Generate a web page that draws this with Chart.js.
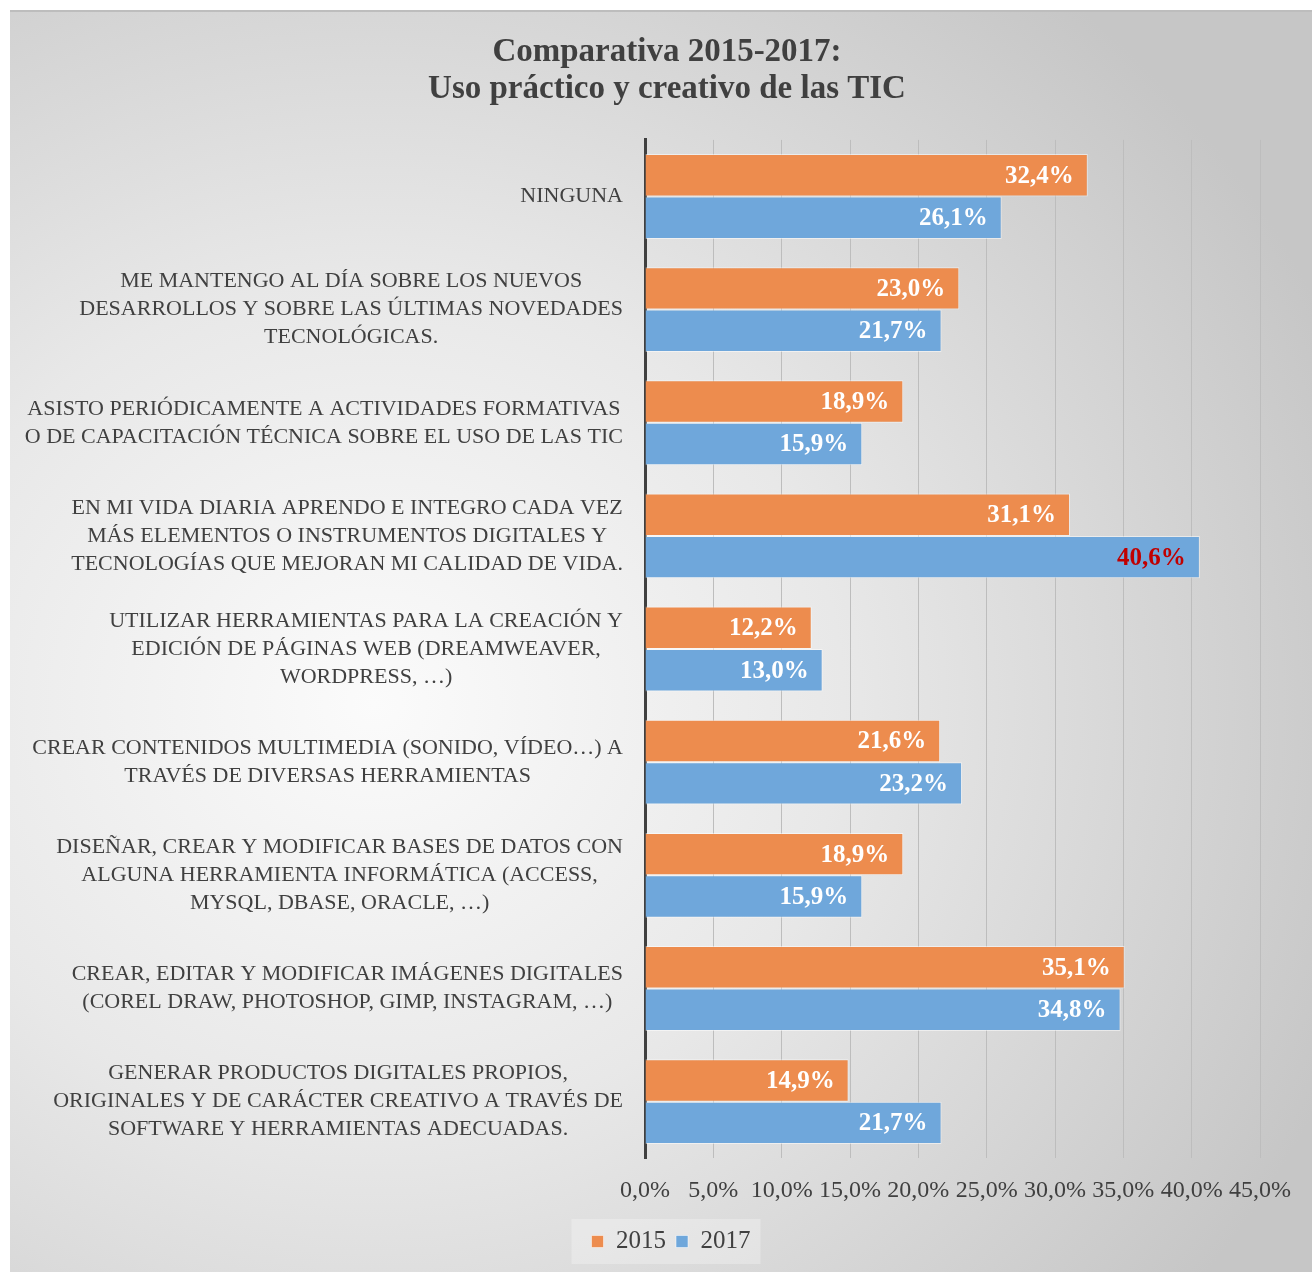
<!DOCTYPE html>
<html>
<head>
<meta charset="utf-8">
<script src="https://cdn.jsdelivr.net/npm/chart.js@4.4.0/dist/chart.umd.min.js"></script>
<style>
html, body { margin: 0; padding: 0; background: #fff; }
#wrap {
    position: absolute; left: 10px; top: 10px; width: 1302px; height: 1262px;
    background: radial-gradient(ellipse 80% 75% at 28% 55%, #fbfbfb 0%, #e8e8e8 45%, #c6c6c6 100%);
}
#wrap::before {
    content: ''; position: absolute; left: 0; top: 0; right: 0; height: 2px; background: #bdbdbd;
}
#c { position: absolute; left: 0; top: 0; }
</style>
</head>
<body>
<div id="wrap"><canvas id="c" width="1302" height="1262"></canvas></div>
<script>
// datos del gráfico
const categories = [
    ['NINGUNA'],
    ['ME MANTENGO AL DÍA SOBRE LOS NUEVOS', 'DESARROLLOS Y SOBRE LAS ÚLTIMAS NOVEDADES', 'TECNOLÓGICAS.'],
    ['ASISTO PERIÓDICAMENTE A ACTIVIDADES FORMATIVAS', 'O DE CAPACITACIÓN TÉCNICA SOBRE EL USO DE LAS TIC'],
    ['EN MI VIDA DIARIA APRENDO E INTEGRO CADA VEZ', 'MÁS ELEMENTOS O INSTRUMENTOS DIGITALES Y', 'TECNOLOGÍAS QUE MEJORAN MI CALIDAD DE VIDA.'],
    ['UTILIZAR HERRAMIENTAS PARA LA CREACIÓN Y', 'EDICIÓN DE PÁGINAS WEB (DREAMWEAVER,', 'WORDPRESS, …)'],
    ['CREAR CONTENIDOS MULTIMEDIA (SONIDO, VÍDEO…) A', 'TRAVÉS DE DIVERSAS HERRAMIENTAS'],
    ['DISEÑAR, CREAR Y MODIFICAR BASES DE DATOS CON', 'ALGUNA HERRAMIENTA INFORMÁTICA (ACCESS,', 'MYSQL, DBASE, ORACLE, …)'],
    ['CREAR, EDITAR Y MODIFICAR IMÁGENES DIGITALES', '(COREL DRAW, PHOTOSHOP, GIMP, INSTAGRAM, …)'],
    ['GENERAR PRODUCTOS DIGITALES PROPIOS,', 'ORIGINALES Y DE CARÁCTER CREATIVO A TRAVÉS DE', 'SOFTWARE Y HERRAMIENTAS ADECUADAS.']
];
const seriesNames = ['2015', '2017'];
const values2015 = [32.4, 23.0, 18.9, 31.1, 12.2, 21.6, 18.9, 35.1, 14.9];
const values2017 = [26.1, 21.7, 15.9, 40.6, 13.0, 23.2, 15.9, 34.8, 21.7];
const xTicks = [0, 5, 10, 15, 20, 25, 30, 35, 40, 45];
const titleLines = ['Comparativa 2015-2017:', 'Uso práctico y creativo de las TIC'];

const FONT = '"Liberation Serif", "DejaVu Serif", serif';
const TEXT = '#404040';
// etiqueta resaltada en rojo (2017, fila 4)
const highlighted = { dataset: 1, index: 3 };

const fmt = v => v.toFixed(1).replace('.', ',') + '%';

// título y leyenda van algo desplazados a la derecha, como en el original
const boxShift = {
    id: 'boxShift',
    afterLayout(chart) {
        const lg = chart.legend;
        if (lg) {
            lg.left += 36;
            lg.right += 36;
            lg.top -= 4;
            lg.bottom -= 4;
        }
        const tt = chart.titleBlock;
        if (tt) {
            tt.left += 32;
            tt.right += 32;
            tt.top += 3;
            tt.bottom += 3;
        }
    }
};

// fondo claro detrás de la leyenda
const legendBox = {
    id: 'legendBox',
    beforeDraw(chart) {
        const boxes = chart.legend && chart.legend.legendHitBoxes;
        if (!boxes || !boxes.length) return;
        const left = Math.min(...boxes.map(b => b.left)) - 20;
        const right = Math.max(...boxes.map(b => b.left + b.width)) + 10;
        const top = chart.legend.top;
        const ctx = chart.ctx;
        ctx.save();
        ctx.fillStyle = 'rgba(255,255,255,0.28)';
        ctx.fillRect(left, top, right - left, chart.legend.height);
        ctx.restore();
    }
};

// etiquetas de categoría: bloque alineado a la derecha, líneas centradas
const categoryLabels = {
    id: 'categoryLabels',
    afterDraw(chart) {
        const y = chart.scales.y;
        const ctx = chart.ctx;
        ctx.save();
        ctx.font = '22px ' + FONT;
        ctx.fillStyle = TEXT;
        ctx.textAlign = 'center';
        ctx.textBaseline = 'middle';
        const lh = 28;
        categories.forEach((lines, i) => {
            const cy = y.getPixelForValue(i);
            const widest = Math.max(...lines.map(l => ctx.measureText(l).width));
            const cx = y.right - 22 - widest / 2;
            lines.forEach((l, k) => {
                ctx.fillText(l, cx, cy + (k - (lines.length - 1) / 2) * lh);
            });
        });
        ctx.restore();
    }
};

// valores dentro del extremo de cada barra
const valueLabels = {
    id: 'valueLabels',
    afterDatasetsDraw(chart) {
        const ctx = chart.ctx;
        ctx.save();
        ctx.font = 'bold 25px ' + FONT;
        ctx.textAlign = 'right';
        ctx.textBaseline = 'middle';
        chart.data.datasets.forEach((ds, d) => {
            chart.getDatasetMeta(d).data.forEach((bar, i) => {
                const hl = d === highlighted.dataset && i === highlighted.index;
                ctx.fillStyle = hl ? '#C00000' : '#ffffff';
                ctx.fillText(fmt(ds.data[i]), bar.x - 14, bar.y + 1);
            });
        });
        ctx.restore();
    }
};

const ctx = document.getElementById('c').getContext('2d');
new Chart(ctx, {
    type: 'bar',
    data: {
        labels: categories,
        datasets: [
            {
                label: seriesNames[0],
                data: values2015,
                backgroundColor: '#ED8C4E',
                borderColor: 'rgba(255,255,255,0.5)',
                borderWidth: 1,
                categoryPercentage: 0.75,
                barPercentage: 1
            },
            {
                label: seriesNames[1],
                data: values2017,
                backgroundColor: '#6FA7DB',
                borderColor: 'rgba(255,255,255,0.5)',
                borderWidth: 1,
                categoryPercentage: 0.75,
                barPercentage: 1
            }
        ]
    },
    options: {
        indexAxis: 'y',
        responsive: false,
        animation: false,
        layout: { padding: { left: 0, right: 52, top: 0, bottom: 4 } },
        scales: {
            x: {
                min: 0,
                max: 45,
                afterBuildTicks: s => { s.ticks = xTicks.map(v => ({ value: v })); },
                ticks: {
                    autoSkip: false,
                    maxRotation: 0,
                    padding: 18,
                    color: TEXT,
                    font: { family: FONT, size: 24 },
                    callback: v => fmt(v)
                },
                grid: { color: '#bdbdbd', drawTicks: false },
                border: { display: false }
            },
            y: {
                afterFit: s => { s.width = 635; },
                ticks: { display: false },
                grid: { display: false },
                border: { color: '#404040', width: 3 }
            }
        },
        plugins: {
            title: {
                display: true,
                text: titleLines,
                color: TEXT,
                font: { family: FONT, size: 33, weight: 'bold', lineHeight: 1.15 },
                padding: { top: 20, bottom: 34 }
            },
            legend: {
                position: 'bottom',
                labels: {
                    boxWidth: 12,
                    boxHeight: 12,
                    color: TEXT,
                    padding: 10,
                    font: { family: FONT, size: 25 }
                }
            },
            tooltip: { enabled: false }
        }
    },
    plugins: [boxShift, legendBox, categoryLabels, valueLabels]
});
</script>
</body>
</html>
